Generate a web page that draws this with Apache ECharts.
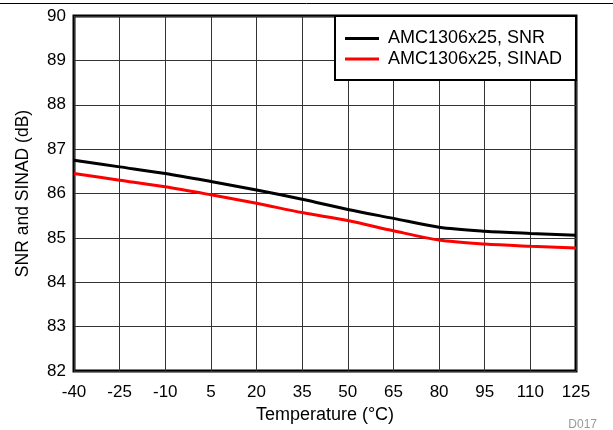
<!DOCTYPE html>
<html>
<head>
<meta charset="utf-8">
<script src="https://cdn.jsdelivr.net/npm/echarts@6/dist/echarts.min.js"></script>
<style>
  html, body { margin: 0; padding: 0; background: #fff; }
  #chart { width: 613px; height: 430px; }
</style>
</head>
<body>
<div id="chart"></div>
<script>
// Temperature sweep points (°C)
const temperatures = [-40, -25, -10, 5, 20, 35, 50, 65, 80, 95, 110, 125];
// Measured SNR (dB)
const snrValues = [86.75, 86.60, 86.45, 86.27, 86.08, 85.87, 85.64, 85.44, 85.24, 85.15, 85.10, 85.06];
// Measured SINAD (dB)
const sinadValues = [86.45, 86.30, 86.15, 85.97, 85.78, 85.57, 85.39, 85.16, 84.95, 84.86, 84.81, 84.77];
const seriesNames = ['AMC1306x25, SNR', 'AMC1306x25, SINAD'];

const FONT = '"Liberation Sans", Arial, sans-serif';
const FS = 17;

const chart = echarts.init(document.getElementById('chart'), null, { renderer: 'canvas' });

const pairs = (vals) => temperatures.map((t, i) => [t, vals[i]]);

chart.setOption({
  animation: false,
  backgroundColor: '#fff',
  textStyle: { fontFamily: FONT },
  grid: {
    left: 74, top: 16, width: 502, height: 355,
    show: true, borderColor: '#000', borderWidth: 3, backgroundColor: 'transparent'
  },
  title: {
    text: 'D017', right: 11, top: 414,
    textStyle: { fontFamily: FONT, fontSize: 12, fontWeight: 'normal', color: '#999' }
  },
  legend: {
    orient: 'vertical',
    left: 345, top: 29.5,
    itemWidth: 34, itemHeight: 3, itemGap: 2.6,
    padding: 0,
    z: 20,
    data: seriesNames.map((n) => ({ name: n, icon: 'rect' })),
    textStyle: { fontFamily: FONT, fontSize: 18, lineHeight: 18, color: '#000', padding: [0, 0, 0, 4] }
  },
  xAxis: {
    type: 'value', min: -40, max: 125, interval: 15,
    name: 'Temperature (°C)', nameLocation: 'middle', nameGap: 32,
    nameTextStyle: { fontFamily: FONT, fontSize: 18, color: '#000' },
    axisLine: { show: false },
    axisTick: { show: false },
    axisLabel: { fontFamily: FONT, fontSize: FS, color: '#000', margin: 13 },
    splitLine: { show: true, lineStyle: { color: '#333', width: 1 } }
  },
  yAxis: {
    type: 'value', min: 82, max: 90, interval: 1,
    name: 'SNR and SINAD (dB)', nameLocation: 'middle', nameGap: 42,
    nameTextStyle: { fontFamily: FONT, fontSize: 17.5, color: '#000' },
    axisLine: { show: false },
    axisTick: { show: false },
    axisLabel: { fontFamily: FONT, fontSize: FS, color: '#000', margin: 8 },
    splitLine: { show: true, lineStyle: { color: '#333', width: 1 } }
  },
  graphic: [
    { type: 'line', shape: { x1: 0, y1: 3.5, x2: 613, y2: 3.5 }, style: { stroke: '#000', lineWidth: 1 }, z: 10 },
    { type: 'rect', shape: { x: 335, y: 16, width: 241, height: 64 }, style: { fill: '#fff', stroke: '#000', lineWidth: 2 }, z: 5 }
  ],
  series: [
    {
      name: seriesNames[0], type: 'line', data: pairs(snrValues),
      smooth: 0.3, symbol: 'none', lineStyle: { color: '#000', width: 3 }, itemStyle: { color: '#000' }, z: 3
    },
    {
      name: seriesNames[1], type: 'line', data: pairs(sinadValues),
      smooth: 0.3, symbol: 'none', lineStyle: { color: '#ff0000', width: 3 }, itemStyle: { color: '#ff0000' }, z: 3
    }
  ]
});
</script>
</body>
</html>
